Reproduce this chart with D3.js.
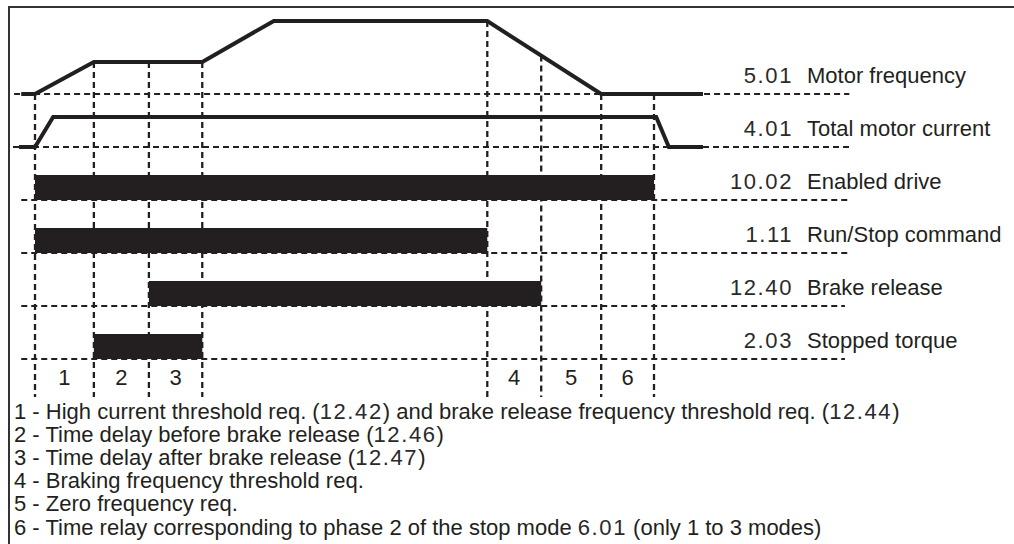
<!DOCTYPE html>
<html>
<head>
<meta charset="utf-8">
<script src="https://cdn.jsdelivr.net/npm/d3@7"></script>
<style>
  html, body { margin: 0; padding: 0; background: #fff; }
  svg { display: block; }
  text { font-family: "Liberation Sans", Arial, sans-serif; fill: #231f20; }
</style>
</head>
<body>
<svg id="chart" width="1014" height="544"></svg>
<script>
// ---------- data ----------
// event instants t1..t8 (time units)
const eventTimes = [0, 1.07, 2.07, 3.04, 8.22, 9.2, 10.29, 11.25];
// 5.01 motor frequency (% of max)
const freqTimes  = [-0.25, 0, 1.07, 3.04, 4.34, 8.22, 10.29, 12.14];
const freqValues = [0, 0, 44, 44, 100, 100, 0, 0];
// 4.01 total motor current (% of max)
const currTimes  = [-0.29, 0, 0.33, 11.29, 11.52, 12.14];
const currValues = [0, 0, 100, 100, 0, 0];
// logic signals: [start, end]
const barRows   = [2, 3, 4, 5];
const barStarts = [0, 0, 2.07, 1.07];
const barEnds   = [11.25, 8.22, 9.2, 3.04];
// signal labels
const signalCodes = ["5.01", "4.01", "10.02", "1.11", "12.40", "2.03"];
const signalNames = ["Motor frequency", "Total motor current", "Enabled drive",
                     "Run/Stop command", "Brake release", "Stopped torque"];
// phases between events
const phaseLabels = ["1", "2", "3", "4", "5", "6"];
const phaseFrom   = [0, 1, 2, 4, 5, 6];
// notes
const notes = [
  "1 - High current threshold req. (12.42) and brake release frequency threshold req. (12.44)",
  "2 - Time delay before brake release (12.46)",
  "3 - Time delay after brake release (12.47)",
  "4 - Braking frequency threshold req.",
  "5 - Zero frequency req.",
  "6 - Time relay corresponding to phase 2 of the stop mode 6.01 (only 1 to 3 modes)"
];
// dashed reference line extents (time units)
const refStart = [-0.38, -0.4, -0.25, -0.25, -0.25, -0.25];
const refEnd   = [14.8, 14.8, 14.78, 14.78, 14.72, 14.72];

// ---------- scales ----------
const svg = d3.select("#chart");
const ink = "#231f20";
const x = d3.scaleLinear().domain([0, 11.25]).range([35, 654]);
const rowY = d3.scaleLinear().domain([0, 5]).range([94, 359]);
const yFreq = d3.scaleLinear().domain([0, 100]).range([rowY(0), 21]);
const yCurr = d3.scaleLinear().domain([0, 100]).range([rowY(1), 117]);
const freqAt = d3.scaleLinear().domain(freqTimes).range(freqValues);
const barH = 25;
const bottomY = 397;

// ---------- frame ----------
svg.append("line").attr("x1", 9).attr("x2", 1014).attr("y1", 7).attr("y2", 7)
  .attr("stroke", "#333").attr("stroke-width", 2);
svg.append("line").attr("x1", 9).attr("x2", 9).attr("y1", 6).attr("y2", 544)
  .attr("stroke", "#333").attr("stroke-width", 2);

// ---------- dashed references ----------
const dash = "6,4";
svg.append("g").selectAll("line").data(signalCodes).join("line")
  .attr("x1", (d, i) => x(refStart[i])).attr("x2", (d, i) => x(refEnd[i]))
  .attr("y1", (d, i) => rowY(i)).attr("y2", (d, i) => rowY(i))
  .attr("stroke", ink).attr("stroke-width", 2).attr("stroke-dasharray", dash);

svg.append("g").selectAll("line").data(eventTimes).join("line")
  .attr("x1", d => x(d)).attr("x2", d => x(d))
  .attr("y1", d => yFreq(freqAt(d))).attr("y2", bottomY)
  .attr("stroke", ink).attr("stroke-width", 2.3).attr("stroke-dasharray", dash);

// ---------- bars ----------
svg.append("g").selectAll("rect").data(barRows).join("rect")
  .attr("x", (d, i) => x(barStarts[i]))
  .attr("width", (d, i) => x(barEnds[i]) - x(barStarts[i]))
  .attr("y", d => rowY(d) - barH)
  .attr("height", barH)
  .attr("fill", ink);

// ---------- analog traces ----------
const lineGen = d3.line();
svg.append("path")
  .attr("d", lineGen(freqTimes.map((t, i) => [x(t), yFreq(freqValues[i])])))
  .attr("fill", "none").attr("stroke", ink).attr("stroke-width", 4)
  .attr("stroke-linejoin", "miter");
svg.append("path")
  .attr("d", lineGen(currTimes.map((t, i) => [x(t), yCurr(currValues[i])])))
  .attr("fill", "none").attr("stroke", ink).attr("stroke-width", 4)
  .attr("stroke-linejoin", "miter");

// ---------- labels ----------
const fs = 22;
const numStyle = sel => sel.style("letter-spacing", "1.6px").style("fill", "#2a2a2a");
svg.append("g").selectAll("text").data(signalCodes).join("text")
  .attr("x", 793).attr("y", (d, i) => rowY(i) - 11)
  .attr("text-anchor", "end").attr("font-size", fs)
  .text(d => d).call(numStyle);
svg.append("g").selectAll("text").data(signalNames).join("text")
  .attr("x", 807).attr("y", (d, i) => rowY(i) - 11)
  .attr("font-size", fs)
  .text(d => d);

svg.append("g").selectAll("text").data(phaseLabels).join("text")
  .attr("x", (d, i) => (x(eventTimes[phaseFrom[i]]) + x(eventTimes[phaseFrom[i] + 1])) / 2)
  .attr("y", 385).attr("text-anchor", "middle").attr("font-size", fs)
  .text(d => d);

// notes with number tokens styled
const noteG = svg.append("g");
notes.forEach((n, i) => {
  const t = noteG.append("text").attr("x", 14).attr("y", 419 + i * 23.1).attr("font-size", fs);
  const parts = n.split(/(\d+\.\d+)/);
  parts.forEach(p => {
    if (!p) return;
    const ts = t.append("tspan").text(p);
    if (/^\d+\.\d+$/.test(p)) ts.call(numStyle);
  });
});
</script>
</body>
</html>
